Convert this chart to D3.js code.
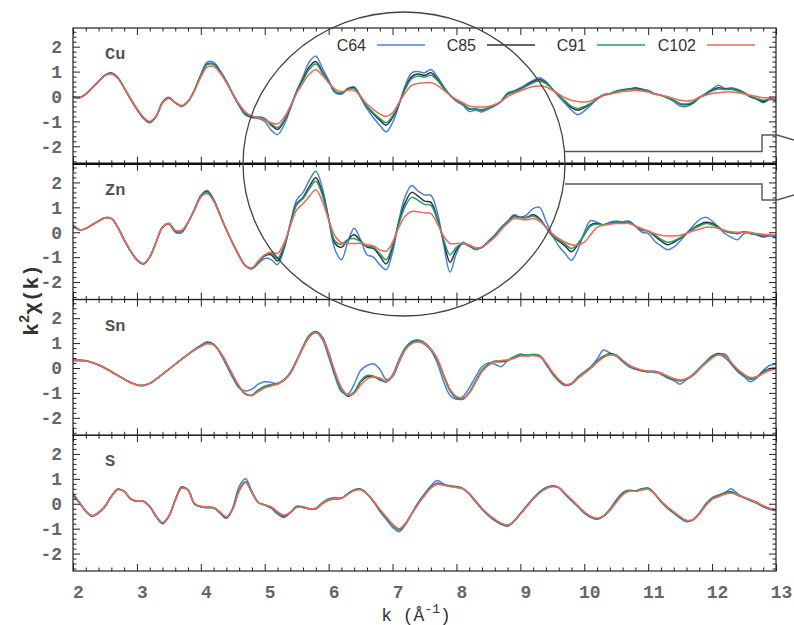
<!DOCTYPE html>
<html><head><meta charset="utf-8">
<script src="https://cdn.jsdelivr.net/npm/d3@7"></script>
<style>body{margin:0;background:#fff}</style>
</head><body><svg id="c" width="794" height="625"></svg>
<script>
const kGrid = d3.range(111).map(i => +(2 + i * 0.1).toFixed(1));
const panels = ["Cu", "Zn", "Sn", "S"];
const seriesNames = ["C64", "C85", "C91", "C102"];
const seriesColors = ["#4a82d6", "#333333", "#1e9e6c", "#f2675c"];
const xTickLabels = [2, 3, 4, 5, 6, 7, 8, 9, 10, 11, 12, 13];
const yTickLabels = [-2, -1, 0, 1, 2];

// ---- Cu ----
const Cu_C64 = [-0.02,-0.05,0.10,0.35,0.60,0.86,0.95,0.76,0.35,-0.10,
-0.52,-0.87,-1.05,-0.80,-0.22,-0.03,-0.25,-0.40,-0.20,0.25,
0.88,1.38,1.38,1.05,0.62,0.10,-0.38,-0.75,-0.85,-0.88,
-1.00,-1.35,-1.53,-1.15,-0.50,0.22,0.80,1.40,1.62,1.15,
0.65,0.15,0.10,0.32,0.38,-0.05,-0.50,-0.85,-1.15,-1.42,
-1.05,-0.35,0.45,0.95,1.00,0.95,1.08,0.80,0.40,0.05,
-0.20,-0.35,-0.60,-0.55,-0.62,-0.50,-0.38,-0.18,0.15,0.22,
0.35,0.50,0.65,0.75,0.60,0.30,0.00,-0.28,-0.55,-0.73,
-0.58,-0.35,-0.10,0.08,0.12,0.22,0.28,0.30,0.35,0.30,
0.25,0.12,0.05,-0.05,-0.20,-0.38,-0.40,-0.28,-0.05,0.12,
0.30,0.45,0.32,0.35,0.28,0.15,-0.02,-0.10,-0.25,-0.12,
-0.18];
const Cu_C85 = [-0.02,-0.05,0.10,0.35,0.60,0.85,0.93,0.75,0.35,-0.10,
-0.50,-0.85,-1.03,-0.80,-0.25,-0.05,-0.25,-0.38,-0.20,0.25,
0.85,1.30,1.30,1.00,0.60,0.10,-0.35,-0.70,-0.82,-0.84,
-0.90,-1.15,-1.32,-1.00,-0.45,0.20,0.70,1.20,1.40,1.00,
0.60,0.20,0.12,0.30,0.35,0.00,-0.40,-0.70,-0.95,-1.15,
-0.85,-0.30,0.35,0.80,0.90,0.85,0.95,0.70,0.35,0.05,
-0.15,-0.30,-0.50,-0.50,-0.55,-0.45,-0.35,-0.20,0.10,0.20,
0.30,0.45,0.60,0.68,0.55,0.30,0.05,-0.20,-0.45,-0.55,
-0.45,-0.30,-0.10,0.05,0.10,0.20,0.25,0.30,0.33,0.28,
0.20,0.10,0.05,-0.05,-0.15,-0.30,-0.33,-0.25,-0.05,0.10,
0.25,0.35,0.30,0.30,0.25,0.15,0.00,-0.10,-0.20,-0.10,
-0.15];
const Cu_C91 = [-0.02,-0.05,0.10,0.35,0.60,0.85,0.92,0.74,0.35,-0.10,
-0.50,-0.84,-1.02,-0.80,-0.25,-0.05,-0.25,-0.38,-0.20,0.24,
0.84,1.28,1.28,0.98,0.58,0.10,-0.33,-0.68,-0.80,-0.82,
-0.88,-1.10,-1.25,-0.95,-0.42,0.18,0.65,1.10,1.30,0.95,
0.58,0.22,0.14,0.28,0.32,0.00,-0.38,-0.65,-0.88,-1.05,
-0.78,-0.28,0.30,0.72,0.82,0.78,0.85,0.65,0.33,0.05,
-0.15,-0.30,-0.48,-0.50,-0.52,-0.45,-0.35,-0.20,0.08,0.18,
0.28,0.42,0.55,0.62,0.52,0.30,0.05,-0.18,-0.40,-0.48,
-0.40,-0.28,-0.10,0.05,0.10,0.20,0.25,0.28,0.30,0.26,
0.20,0.10,0.05,-0.05,-0.15,-0.28,-0.30,-0.22,-0.05,0.08,
0.22,0.30,0.28,0.28,0.22,0.15,0.02,-0.08,-0.15,-0.10,
-0.12];
const Cu_C102 = [-0.02,-0.05,0.10,0.35,0.60,0.84,0.90,0.72,0.35,-0.08,
-0.48,-0.82,-1.00,-0.78,-0.27,-0.08,-0.25,-0.36,-0.18,0.22,
0.78,1.18,1.20,0.95,0.55,0.10,-0.30,-0.62,-0.78,-0.85,
-0.95,-1.05,-1.10,-0.85,-0.40,0.12,0.55,0.90,1.07,0.85,
0.55,0.30,0.20,0.25,0.25,0.00,-0.30,-0.52,-0.70,-0.80,
-0.65,-0.25,0.15,0.45,0.52,0.55,0.55,0.45,0.25,0.05,
-0.12,-0.25,-0.38,-0.42,-0.42,-0.40,-0.32,-0.20,0.00,0.12,
0.22,0.32,0.40,0.42,0.38,0.25,0.10,-0.05,-0.15,-0.20,
-0.22,-0.18,-0.05,0.05,0.10,0.15,0.20,0.22,0.25,0.22,
0.18,0.10,0.05,0.00,-0.08,-0.15,-0.18,-0.15,-0.02,0.05,
0.12,0.15,0.18,0.18,0.15,0.10,0.05,0.00,-0.05,-0.05,
-0.08];

// ---- Zn ----
const Zn_C64 = [0.28,0.10,0.15,0.30,0.45,0.58,0.56,0.20,-0.30,-0.76,
-1.12,-1.28,-1.00,-0.40,0.20,0.33,0.00,-0.02,0.38,0.92,
1.48,1.68,1.32,0.70,0.10,-0.45,-0.95,-1.35,-1.47,-1.25,
-1.05,-1.10,-1.30,-0.70,0.35,1.30,1.60,2.10,2.45,1.80,
0.55,-0.70,-1.10,-0.40,0.16,-0.30,-0.90,-1.00,-1.30,-1.50,
-0.80,0.50,1.45,1.88,1.65,1.50,1.48,0.80,-0.50,-1.60,
-0.85,-0.40,-0.55,-0.70,-0.60,-0.35,-0.10,0.20,0.45,0.70,
0.60,0.70,0.95,1.00,0.45,-0.10,-0.55,-0.85,-1.12,-0.70,
0.00,0.47,0.40,0.30,0.40,0.45,0.42,0.45,0.25,0.00,
-0.05,-0.35,-0.55,-0.70,-0.60,-0.35,-0.05,0.25,0.50,0.60,
0.45,0.20,-0.05,-0.20,-0.30,-0.05,0.00,-0.10,-0.20,-0.15,
-0.18];
const Zn_C85 = [0.28,0.10,0.15,0.30,0.45,0.58,0.55,0.20,-0.30,-0.75,
-1.10,-1.27,-1.00,-0.40,0.20,0.35,0.05,0.05,0.40,0.90,
1.45,1.63,1.30,0.70,0.10,-0.45,-0.95,-1.35,-1.45,-1.20,
-0.95,-0.90,-1.15,-0.60,0.30,1.15,1.40,1.85,2.19,1.60,
0.55,-0.45,-0.60,-0.30,-0.10,-0.35,-0.60,-0.65,-0.95,-1.27,
-0.60,0.40,1.20,1.60,1.45,1.25,1.20,0.55,-0.35,-1.20,
-0.70,-0.45,-0.55,-0.65,-0.60,-0.40,-0.15,0.15,0.40,0.65,
0.60,0.60,0.70,0.55,0.20,-0.15,-0.35,-0.55,-0.78,-0.50,
-0.10,0.30,0.35,0.30,0.35,0.40,0.38,0.40,0.25,0.08,
0.05,-0.15,-0.35,-0.50,-0.40,-0.25,-0.05,0.15,0.30,0.40,
0.35,0.20,0.05,-0.02,-0.05,0.02,-0.05,-0.10,-0.15,-0.12,
-0.15];
const Zn_C91 = [0.28,0.10,0.15,0.30,0.45,0.58,0.55,0.20,-0.30,-0.75,
-1.10,-1.26,-1.00,-0.40,0.20,0.35,0.06,0.06,0.40,0.90,
1.44,1.60,1.28,0.70,0.10,-0.45,-0.95,-1.35,-1.45,-1.20,
-0.92,-0.85,-1.05,-0.55,0.30,1.10,1.35,1.75,2.05,1.50,
0.52,-0.35,-0.48,-0.30,-0.25,-0.38,-0.55,-0.60,-0.85,-1.10,
-0.50,0.35,1.05,1.40,1.28,1.12,1.08,0.50,-0.30,-0.90,
-0.60,-0.45,-0.55,-0.65,-0.60,-0.40,-0.15,0.15,0.40,0.62,
0.58,0.58,0.65,0.50,0.20,-0.12,-0.30,-0.48,-0.65,-0.45,
-0.10,0.25,0.32,0.30,0.35,0.38,0.36,0.38,0.25,0.10,
0.05,-0.10,-0.28,-0.40,-0.35,-0.22,-0.05,0.12,0.25,0.35,
0.30,0.18,0.05,-0.02,-0.05,0.02,-0.05,-0.10,-0.12,-0.12,
-0.14];
const Zn_C102 = [0.28,0.10,0.15,0.30,0.45,0.57,0.55,0.20,-0.30,-0.75,
-1.10,-1.25,-1.00,-0.40,0.18,0.35,0.08,0.08,0.40,0.88,
1.40,1.55,1.25,0.70,0.10,-0.45,-0.95,-1.35,-1.43,-1.15,
-0.90,-0.80,-0.85,-0.45,0.25,0.90,1.15,1.45,1.71,1.25,
0.50,-0.15,-0.42,-0.45,-0.45,-0.45,-0.50,-0.55,-0.70,-0.76,
-0.40,0.20,0.65,0.83,0.82,0.78,0.75,0.35,-0.15,-0.45,
-0.45,-0.45,-0.50,-0.62,-0.60,-0.42,-0.20,0.10,0.35,0.55,
0.52,0.50,0.55,0.45,0.20,-0.05,-0.25,-0.40,-0.50,-0.52,
-0.40,-0.10,0.20,0.28,0.32,0.35,0.35,0.35,0.25,0.15,
0.05,-0.05,-0.12,-0.15,-0.15,-0.12,-0.05,0.05,0.12,0.20,
0.20,0.15,0.08,0.02,0.00,0.00,-0.02,-0.05,-0.08,-0.10,
-0.12];

// ---- Sn ----
const Sn_C64 = [0.32,0.32,0.30,0.22,0.12,0.00,-0.15,-0.30,-0.45,-0.58,
-0.68,-0.70,-0.62,-0.45,-0.25,-0.05,0.15,0.35,0.55,0.75,
0.92,1.05,0.95,0.60,0.10,-0.40,-0.80,-0.92,-0.85,-0.65,
-0.55,-0.58,-0.62,-0.48,-0.20,0.28,0.82,1.25,1.42,1.15,
0.45,-0.35,-0.95,-1.05,-0.65,-0.10,0.10,0.17,-0.05,-0.45,
-0.35,0.20,0.75,1.00,1.05,0.95,0.70,0.20,-0.55,-1.10,
-1.25,-1.15,-0.80,-0.35,0.05,0.20,0.15,0.05,0.30,0.45,
0.55,0.50,0.50,0.48,0.15,-0.22,-0.52,-0.70,-0.62,-0.35,
-0.15,0.05,0.35,0.72,0.60,0.48,0.25,0.05,-0.05,-0.12,
-0.15,-0.12,-0.25,-0.40,-0.50,-0.65,-0.45,-0.25,0.00,0.25,
0.50,0.55,0.42,0.15,-0.15,-0.35,-0.55,-0.40,-0.10,0.10,
0.15];
const Sn_C85 = [0.30,0.30,0.28,0.22,0.12,0.00,-0.15,-0.30,-0.45,-0.58,
-0.68,-0.70,-0.62,-0.45,-0.25,-0.05,0.15,0.35,0.55,0.72,
0.88,1.00,0.95,0.65,0.20,-0.30,-0.75,-1.05,-1.10,-0.90,
-0.75,-0.68,-0.63,-0.50,-0.20,0.30,0.85,1.30,1.47,1.25,
0.60,-0.20,-0.85,-1.13,-1.00,-0.55,-0.35,-0.35,-0.45,-0.55,
-0.30,0.30,0.80,1.05,1.10,1.00,0.75,0.35,-0.30,-0.90,
-1.20,-1.25,-1.00,-0.55,-0.10,0.15,0.25,0.25,0.30,0.40,
0.52,0.50,0.52,0.50,0.20,-0.20,-0.50,-0.68,-0.65,-0.40,
-0.20,0.00,0.25,0.45,0.58,0.50,0.30,0.10,-0.03,-0.10,
-0.15,-0.15,-0.20,-0.35,-0.45,-0.50,-0.45,-0.30,-0.05,0.20,
0.45,0.58,0.50,0.20,-0.10,-0.30,-0.43,-0.35,-0.15,-0.03,
0.00];
const Sn_C91 = [0.30,0.30,0.28,0.22,0.12,0.00,-0.15,-0.30,-0.45,-0.58,
-0.68,-0.70,-0.62,-0.45,-0.25,-0.05,0.15,0.35,0.55,0.72,
0.88,0.98,0.93,0.63,0.18,-0.30,-0.75,-1.05,-1.08,-0.88,
-0.73,-0.67,-0.62,-0.48,-0.18,0.32,0.87,1.32,1.45,1.22,
0.58,-0.22,-0.88,-1.10,-0.95,-0.52,-0.30,-0.32,-0.48,-0.55,
-0.28,0.32,0.82,1.07,1.12,1.02,0.75,0.35,-0.32,-0.92,
-1.22,-1.25,-0.98,-0.52,-0.08,0.15,0.28,0.28,0.32,0.42,
0.55,0.52,0.55,0.50,0.18,-0.22,-0.52,-0.70,-0.62,-0.38,
-0.18,0.02,0.28,0.48,0.55,0.52,0.30,0.10,-0.02,-0.10,
-0.12,-0.18,-0.22,-0.35,-0.45,-0.52,-0.45,-0.28,-0.02,0.22,
0.45,0.55,0.55,0.22,-0.08,-0.30,-0.45,-0.38,-0.18,-0.05,
-0.02];
const Sn_C102 = [0.30,0.30,0.28,0.22,0.12,0.00,-0.15,-0.30,-0.45,-0.58,
-0.67,-0.70,-0.62,-0.45,-0.25,-0.05,0.15,0.35,0.55,0.72,
0.86,0.97,0.93,0.65,0.22,-0.28,-0.72,-1.02,-1.10,-0.95,
-0.80,-0.72,-0.65,-0.50,-0.22,0.28,0.82,1.25,1.42,1.22,
0.62,-0.15,-0.78,-1.08,-1.02,-0.68,-0.45,-0.35,-0.40,-0.52,
-0.30,0.25,0.72,0.98,1.05,0.98,0.75,0.38,-0.25,-0.85,
-1.15,-1.20,-1.00,-0.58,-0.15,0.10,0.25,0.30,0.32,0.38,
0.48,0.48,0.50,0.45,0.22,-0.15,-0.45,-0.65,-0.62,-0.42,
-0.22,-0.02,0.22,0.42,0.52,0.48,0.32,0.12,0.00,-0.08,
-0.12,-0.15,-0.20,-0.32,-0.42,-0.48,-0.42,-0.28,-0.05,0.18,
0.40,0.52,0.48,0.22,-0.05,-0.25,-0.38,-0.35,-0.22,-0.10,
-0.05];

// ---- S ----
const S_C64 = [0.40,0.05,-0.30,-0.50,-0.38,-0.12,0.28,0.58,0.50,0.20,
0.10,0.10,-0.12,-0.52,-0.80,-0.50,0.15,0.68,0.55,0.00,
-0.12,-0.15,-0.16,-0.38,-0.58,-0.15,0.70,1.00,0.50,0.05,
-0.05,-0.18,-0.42,-0.55,-0.35,-0.10,-0.12,-0.20,-0.18,0.05,
0.20,0.25,0.22,0.40,0.55,0.58,0.40,0.10,-0.30,-0.62,
-0.95,-1.12,-0.85,-0.40,0.05,0.40,0.72,0.93,0.80,0.72,
0.68,0.60,0.40,0.08,-0.22,-0.48,-0.68,-0.83,-0.90,-0.72,
-0.40,-0.08,0.22,0.48,0.65,0.72,0.65,0.38,0.12,-0.12,
-0.38,-0.55,-0.62,-0.50,-0.22,0.15,0.45,0.55,0.52,0.60,
0.62,0.38,0.08,-0.18,-0.38,-0.58,-0.72,-0.65,-0.38,0.00,
0.25,0.35,0.45,0.60,0.40,0.25,0.12,0.02,-0.12,-0.22,
-0.28];
const S_C85 = [0.37,0.05,-0.30,-0.50,-0.35,-0.10,0.30,0.58,0.50,0.20,
0.10,0.10,-0.10,-0.50,-0.78,-0.50,0.15,0.65,0.55,0.00,
-0.12,-0.15,-0.16,-0.35,-0.56,-0.20,0.55,0.88,0.45,0.05,
-0.05,-0.15,-0.35,-0.50,-0.35,-0.12,-0.15,-0.20,-0.20,0.00,
0.15,0.20,0.22,0.40,0.55,0.58,0.40,0.10,-0.25,-0.55,
-0.85,-1.03,-0.80,-0.40,0.00,0.35,0.65,0.82,0.75,0.70,
0.68,0.62,0.40,0.10,-0.20,-0.45,-0.65,-0.80,-0.87,-0.70,
-0.40,-0.10,0.20,0.45,0.62,0.70,0.65,0.40,0.15,-0.10,
-0.35,-0.52,-0.60,-0.50,-0.25,0.10,0.40,0.52,0.50,0.58,
0.62,0.40,0.10,-0.15,-0.35,-0.55,-0.68,-0.65,-0.40,-0.05,
0.20,0.30,0.42,0.48,0.35,0.25,0.15,0.05,-0.10,-0.20,
-0.25];
const S_C91 = [0.35,0.05,-0.30,-0.48,-0.35,-0.10,0.30,0.57,0.50,0.20,
0.10,0.10,-0.10,-0.50,-0.76,-0.50,0.15,0.64,0.55,0.00,
-0.12,-0.15,-0.16,-0.35,-0.55,-0.20,0.55,0.86,0.45,0.05,
-0.05,-0.15,-0.35,-0.48,-0.35,-0.12,-0.15,-0.20,-0.20,0.00,
0.15,0.20,0.22,0.40,0.55,0.57,0.40,0.10,-0.25,-0.55,
-0.85,-1.05,-0.80,-0.40,0.00,0.35,0.65,0.82,0.75,0.70,
0.66,0.60,0.40,0.10,-0.20,-0.45,-0.65,-0.80,-0.88,-0.70,
-0.40,-0.10,0.20,0.45,0.62,0.70,0.65,0.40,0.15,-0.10,
-0.35,-0.52,-0.62,-0.50,-0.25,0.10,0.40,0.52,0.50,0.58,
0.60,0.40,0.10,-0.15,-0.35,-0.55,-0.70,-0.65,-0.40,-0.05,
0.20,0.30,0.42,0.46,0.35,0.25,0.15,0.05,-0.10,-0.20,
-0.25];
const S_C102 = [0.30,0.05,-0.28,-0.48,-0.35,-0.10,0.30,0.58,0.50,0.22,
0.12,0.10,-0.10,-0.48,-0.75,-0.50,0.12,0.62,0.55,0.02,
-0.10,-0.13,-0.15,-0.33,-0.52,-0.22,0.50,0.85,0.45,0.05,
-0.05,-0.12,-0.32,-0.45,-0.35,-0.15,-0.15,-0.20,-0.18,0.00,
0.15,0.20,0.22,0.38,0.52,0.56,0.40,0.12,-0.22,-0.52,
-0.82,-1.00,-0.80,-0.42,-0.02,0.32,0.62,0.78,0.75,0.70,
0.65,0.60,0.42,0.12,-0.18,-0.42,-0.62,-0.78,-0.85,-0.70,
-0.42,-0.12,0.18,0.42,0.60,0.68,0.65,0.42,0.18,-0.08,
-0.32,-0.50,-0.58,-0.50,-0.28,0.05,0.35,0.50,0.50,0.55,
0.58,0.40,0.12,-0.12,-0.32,-0.52,-0.66,-0.63,-0.42,-0.08,
0.18,0.28,0.38,0.42,0.35,0.25,0.15,0.05,-0.08,-0.18,
-0.25];

const panelData = {
  Cu: [Cu_C64, Cu_C85, Cu_C91, Cu_C102],
  Zn: [Zn_C64, Zn_C85, Zn_C91, Zn_C102],
  Sn: [Sn_C64, Sn_C85, Sn_C91, Sn_C102],
  S:  [S_C64,  S_C85,  S_C91,  S_C102]
};

const svg = d3.select("#c");
const mono = "'Liberation Mono', 'DejaVu Sans Mono', monospace";
const sans = "'Liberation Sans', Arial, sans-serif";
const x = d3.scaleLinear().domain([2, 13]).range([73, 776]);
const plotTop = 28, plotBottom = 571;
const ph = (plotBottom - plotTop) / panels.length;
const xMinor = d3.range(2, 13.001, 0.2).map(v => +v.toFixed(1)).filter(v => Math.abs(v - Math.round(v)) > 1e-6);
const yMinor = d3.range(-2.6, 2.7, 0.2).map(v => +v.toFixed(1)).filter(v => Math.abs(v - Math.round(v)) > 1e-6);

function styleAxis(g) {
  g.select(".domain").remove();
  g.selectAll(".tick line").attr("stroke", "#222").attr("stroke-width", 1);
  g.selectAll(".tick text").attr("font-family", mono).attr("font-size", 18)
    .attr("font-weight", "bold").attr("fill", "#666");
}

panels.forEach((p, i) => {
  const y0 = plotTop + i * ph;
  const y = d3.scaleLinear().domain([-2.7, 2.75]).range([y0 + ph, y0]);
  const g = svg.append("g");

  svg.append("clipPath").attr("id", "clip" + i)
    .append("rect").attr("x", x(2)).attr("y", y0).attr("width", x(13) - x(2)).attr("height", ph);

  const line = d3.line().x((d, j) => x(kGrid[j])).y(d => y(d)).curve(d3.curveCatmullRom.alpha(0.5));
  const lg = g.append("g").attr("clip-path", `url(#clip${i})`);
  panelData[p].forEach((arr, si) => {
    lg.append("path").attr("d", line(arr)).attr("fill", "none")
      .attr("stroke", seriesColors[si]).attr("stroke-width", 1.5).attr("stroke-linejoin", "round");
  });

  const left = g.append("g").attr("transform", `translate(${x(2)},0)`)
    .call(d3.axisLeft(y).tickValues(yTickLabels).tickSize(-7).tickPadding(11).tickFormat(d => String(d)));
  styleAxis(left);
  const leftMinor = g.append("g").attr("transform", `translate(${x(2)},0)`)
    .call(d3.axisLeft(y).tickValues(yMinor).tickSize(-3.5).tickFormat(""));
  styleAxis(leftMinor);
  const right = g.append("g").attr("transform", `translate(${x(13)},0)`)
    .call(d3.axisRight(y).tickValues(yTickLabels).tickSize(-7).tickFormat(""));
  styleAxis(right);
  const rightMinor = g.append("g").attr("transform", `translate(${x(13)},0)`)
    .call(d3.axisRight(y).tickValues(yMinor).tickSize(-3.5).tickFormat(""));
  styleAxis(rightMinor);

  const topAx = g.append("g").attr("transform", `translate(0,${y0})`)
    .call(d3.axisTop(x).tickValues(xTickLabels).tickSize(-7).tickFormat(""));
  styleAxis(topAx);
  const topMinor = g.append("g").attr("transform", `translate(0,${y0})`)
    .call(d3.axisTop(x).tickValues(xMinor).tickSize(-3.5).tickFormat(""));
  styleAxis(topMinor);
  const bot = g.append("g").attr("transform", `translate(0,${y0 + ph})`)
    .call(d3.axisBottom(x).tickValues(xTickLabels).tickSize(-7).tickPadding(14)
      .tickFormat(i === panels.length - 1 ? d3.format("d") : ""));
  styleAxis(bot);
  bot.selectAll(".tick text").attr("dx", 5);
  const botMinor = g.append("g").attr("transform", `translate(0,${y0 + ph})`)
    .call(d3.axisBottom(x).tickValues(xMinor).tickSize(-3.5).tickFormat(""));
  styleAxis(botMinor);

  g.append("rect").attr("x", x(2)).attr("y", y0).attr("width", x(13) - x(2)).attr("height", ph)
    .attr("fill", "none").attr("stroke", "#222").attr("stroke-width", 1.2);

  g.append("text").attr("x", x(2) + 32).attr("y", y0 + 31)
    .attr("font-family", mono).attr("font-size", 17).attr("font-weight", "bold").attr("fill", "#555").text(p);
});

svg.append("line").attr("x1", x(2)).attr("x2", x(13)).attr("y1", plotTop + ph).attr("y2", plotTop + ph)
  .attr("stroke", "#111").attr("stroke-width", 2.6);

seriesNames.forEach((s, si) => {
  const lx = 377 + si * 110;
  svg.append("text").attr("x", lx - 11).attr("y", 51).attr("text-anchor", "end")
    .attr("font-family", sans).attr("font-size", 16).attr("fill", "#333").text(s);
  svg.append("line").attr("x1", lx).attr("x2", lx + 48).attr("y1", 45).attr("y2", 45)
    .attr("stroke", seriesColors[si]).attr("stroke-width", 1.6);
});

svg.append("ellipse").attr("cx", 404).attr("cy", 164).attr("rx", 161).attr("ry", 152)
  .attr("fill", "none").attr("stroke", "#444").attr("stroke-width", 1.3);

svg.append("path").attr("d", "M565,151.5 H762 V135 H777 L794,140")
  .attr("fill", "none").attr("stroke", "#555").attr("stroke-width", 1.4);
svg.append("path").attr("d", "M565,184 H762 V200 H777 L794,195")
  .attr("fill", "none").attr("stroke", "#555").attr("stroke-width", 1.4);

const yt = svg.append("text").attr("transform", "translate(38,300) rotate(-90)")
  .attr("text-anchor", "middle").attr("font-family", mono).attr("font-size", 21)
  .attr("font-weight", "bold").attr("fill", "#333");
yt.append("tspan").text("k");
yt.append("tspan").attr("font-size", 14).attr("dy", -9).text("2");
yt.append("tspan").attr("dy", 9).text("\u03c7(k)");

const xt = svg.append("text").attr("x", 416).attr("y", 621).attr("text-anchor", "middle")
  .attr("font-family", mono).attr("font-size", 18).attr("fill", "#333");
xt.append("tspan").text("k (\u00c5");
xt.append("tspan").attr("font-size", 13).attr("dy", -8).text("-1");
xt.append("tspan").attr("dy", 8).text(")");
</script>
</body></html>
